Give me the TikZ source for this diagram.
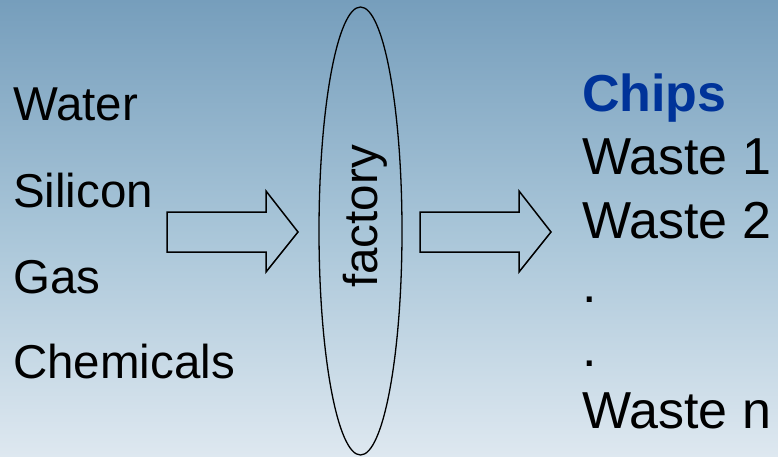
\documentclass[tikz,border=0pt]{standalone}
\usepackage{fontspec}
\setmainfont{Liberation Sans}
\usetikzlibrary{shapes.geometric}
\definecolor{bgtop}{RGB}{118,158,188}
\definecolor{bgmid}{RGB}{168,197,216}
\definecolor{bgbot}{RGB}{222,232,240}
\definecolor{chipblue}{RGB}{0,51,153}
\tikzset{
  intext/.style={anchor=base west, inner sep=0pt, font=\fontsize{47.5}{47.5}\selectfont},
  outtext/.style={anchor=base west, inner sep=0pt, font=\fontsize{52}{52}\selectfont},
  bigarrow/.style={draw=black, line width=1.5pt, line join=miter},
}
\begin{document}
\begin{tikzpicture}[x=1pt, y=-1pt]
\useasboundingbox (0,0) rectangle (778,457);
\shade[top color=bgtop, bottom color=bgbot, middle color=bgmid] (0,0) rectangle (778,457);
% inputs
\node[intext] (water) at (13,121) {Water};
\node[intext] (silicon) at (13,207) {Silicon};
\node[intext] (gas) at (13,293) {Gas};
\node[intext] (chem) at (13,378) {Chemicals};
% arrow 1
\draw[bigarrow] (167,212) coordinate (a1) -- (266,212) -- (266,191) -- (298,232) -- (266,272) -- (266,252) -- (167,252) -- cycle;
% factory ellipse
\node[draw, line width=1.3pt, ellipse, minimum width=83pt, minimum height=448pt, inner sep=0pt] (factory) at (360.5,231) {};
\node[rotate=90, inner sep=0pt, font=\fontsize{47.5}{47.5}\selectfont] (factorytext) at (365,216.5) {factory};
% arrow 2
\draw[bigarrow] (420,212) coordinate (a2) -- (519,212) -- (519,191) -- (551,232) -- (519,272) -- (519,252) -- (420,252) -- cycle;
% outputs
\node[outtext, text=chipblue, font=\fontsize{52}{52}\selectfont\bfseries] (chips) at (582,112) {Chips};
\node[outtext] (w1) at (582,175) {Waste 1};
\node[outtext] (w2) at (582,238) {Waste 2};
\node[outtext] (d1) at (582,302) {.};
\node[outtext] (d2) at (582,366) {.};
\node[outtext] (wn) at (582,428) {Waste n};
\end{tikzpicture}
\end{document}
